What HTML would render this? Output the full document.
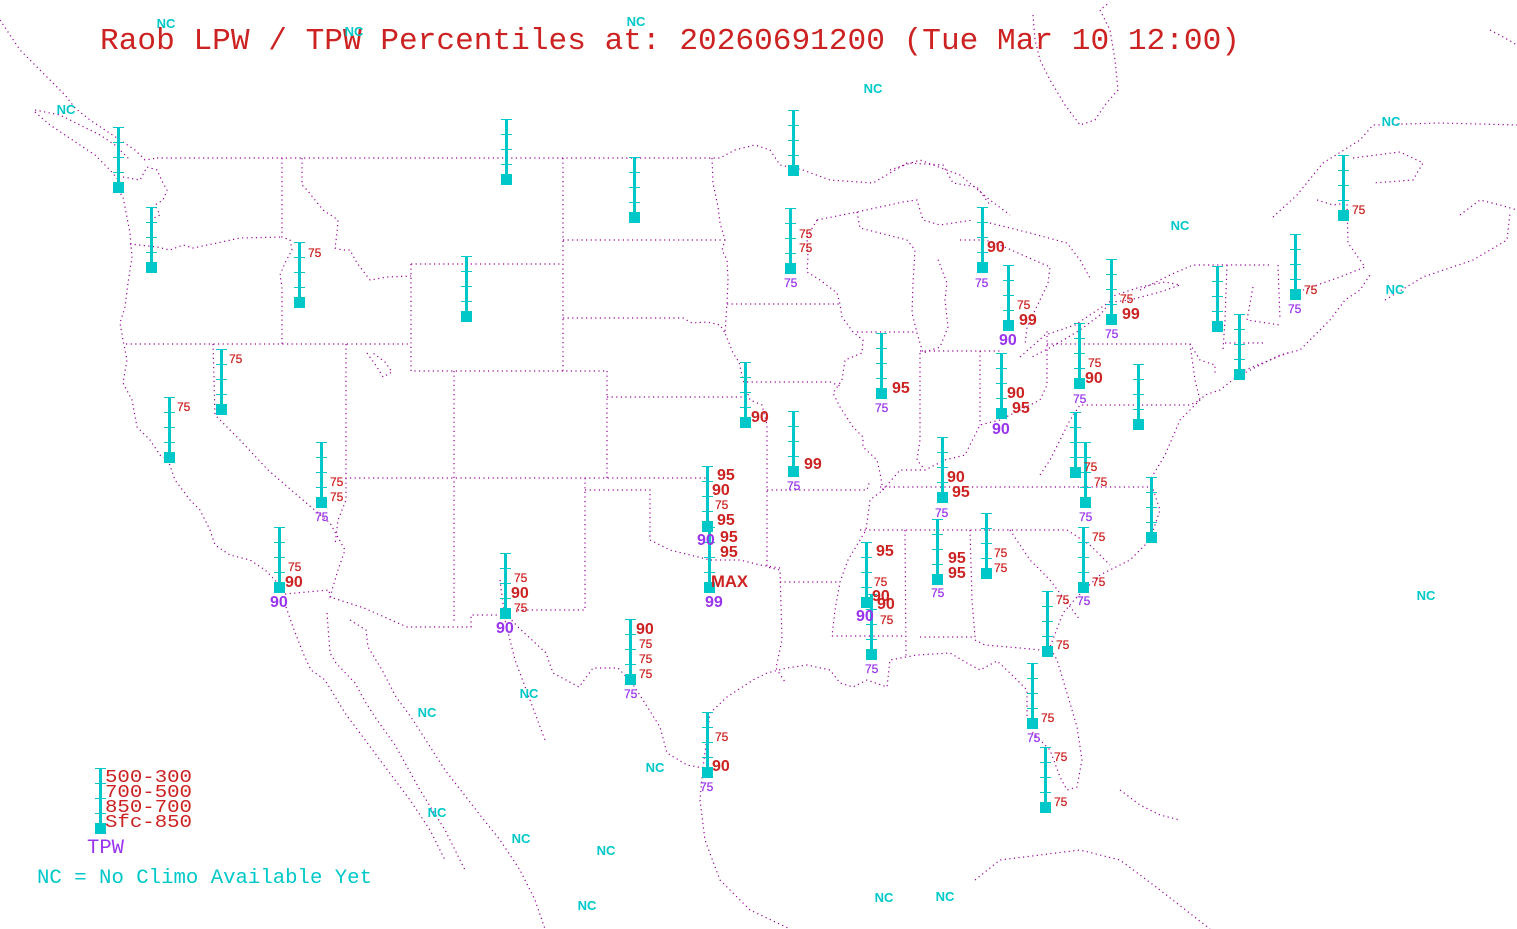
<!DOCTYPE html>
<html><head><meta charset="utf-8"><style>
html,body{margin:0;padding:0;background:#fff;}
svg{display:block;}
.m{fill:none;stroke:#990099;stroke-width:1.2;stroke-dasharray:1.2 3.4;}
.b{font:bold 16px "Liberation Sans",sans-serif;fill:#cc2222;}
.s{font:12px "Liberation Sans",sans-serif;fill:#cc2222;stroke:#cc2222;stroke-width:0.25;}
.pb{font:bold 16px "Liberation Sans",sans-serif;fill:#9933ee;}
.ps{font:12px "Liberation Sans",sans-serif;fill:#9933ee;stroke:#9933ee;stroke-width:0.25;}
.nc{font:bold 13px "Liberation Sans",sans-serif;fill:#00c8c8;}
.g rect{fill:#00c8c8;}
</style></head><body>
<svg width="1517" height="929" viewBox="0 0 1517 929" xmlns="http://www.w3.org/2000/svg">
<rect width="1517" height="929" fill="#fff"/>
<g class="m">
<polyline points="0,20 10,35 20,50 35,65 45,75 55,85 65,95 75,108 90,120 105,130 120,140 135,150 145,160 157,158"/>
<polyline points="35,110 60,115 80,125 100,135 115,145 130,160"/>
<polyline points="35,112 50,125 65,135 80,145 95,155 110,170 120,182"/>
<polyline points="123,177 140,180 147,167 157,170 163,183 167,190 163,200 155,205 160,215 150,220"/>
<polyline points="118,190 123,197 130,233 132,257 128,283 125,307 120,323 123,340 127,360 123,383 132,400 137,427 150,440 160,455 168,460 175,480 190,500 200,510 210,530 215,545 230,555 250,560 265,570 275,580 285,594"/>
<polyline points="157,158 720,158 735,150 755,145 770,150 780,165 803,170 830,180 873,183 907,163 943,165 953,183 977,187 990,205"/>
<polyline points="130,244 157,247 170,250 183,245 193,248 217,243 240,238 282,237"/>
<polyline points="282,158 282,237 290,240 292,250 285,263 280,275 282,287 282,344"/>
<polyline points="302,158 302,185 307,190 323,210 338,220 337,233 335,248 342,250 350,250 357,263 370,280 387,277 411,276"/>
<polyline points="126,344 411,344"/>
<polyline points="411,264 562,264"/>
<polyline points="411,264 411,371 607,371"/>
<polyline points="346,344 346,478 709,478"/>
<polyline points="454,371 454,623"/>
<polyline points="607,371 607,478"/>
<polyline points="563,158 563,371"/>
<polyline points="563,240 725,240"/>
<polyline points="563,318 683,318 692,323 707,322 720,325 725,333"/>
<polyline points="607,397 747,397"/>
<polyline points="712,158 713,183 718,207 720,223 725,240 722,250 727,260 728,280 727,303 725,333 733,353 739,362 743,380 750,400 762,405 767,425 767,567 780,570 782,640 776,668 785,682"/>
<polyline points="727,304 840,304"/>
<polyline points="817,220 807,237 808,257 807,272 820,280 837,293 840,304 842,317 853,332 863,340 862,353 845,360 842,380 833,393 840,407 853,427 863,437 863,447 877,460 880,473 883,490 870,500 866,530 848,560 840,582 835,610 832,636"/>
<polyline points="857,332 917,332"/>
<polyline points="747,382 830,382 840,386"/>
<polyline points="920,353 920,440 917,460 925,470"/>
<polyline points="920,351 1003,351"/>
<polyline points="980,351 980,425"/>
<polyline points="883,490 900,470 925,470 945,460 965,455 980,425 1000,420 1020,410 1040,400 1047,385 1047,330"/>
<polyline points="1047,344 1190,344 1200,360 1215,365 1215,375"/>
<polyline points="1190,344 1195,380 1200,400 1190,405 1080,405 1070,420 1060,440 1050,460 1040,475"/>
<polyline points="585,478 585,610 518,610"/>
<polyline points="585,490 650,490 650,540 670,550 690,555 710,560 740,560 760,565 780,568"/>
<polyline points="767,490 867,490 870,480"/>
<polyline points="780,582 840,582"/>
<polyline points="832,636 905,636"/>
<polyline points="905,530 906,657"/>
<polyline points="860,530 1020,530 1067,530 1090,545 1110,565"/>
<polyline points="880,487 1150,487"/>
<polyline points="970,530 972,600 975,637 920,637"/>
<polyline points="975,640 985,645 1020,648 1040,650 1052,650"/>
<polyline points="1010,530 1030,560 1050,580 1065,600 1080,620"/>
<polyline points="213,344 215,415 240,440 268,470 311,507 330,523 345,550 338,570 332,590 330,600"/>
<polyline points="346,478 346,500 338,520 335,545"/>
<polyline points="285,594 329,590 330,597 364,608 407,627 471,627 471,615 507,615 518,627 546,653 553,673 579,687 593,668 618,668 632,683 643,700 660,727 667,753 687,765 703,768"/>
<polyline points="286,607 293,627 303,653 311,670 325,680 345,713 380,760 410,800 430,830 445,860"/>
<polyline points="327,613 330,653 336,663 355,683 366,703 375,717 395,745 420,790 445,830 465,870"/>
<polyline points="350,620 366,630 368,647 382,670 396,697 411,717 445,770 480,815 500,840 520,870 535,900 545,929"/>
<polyline points="500,580 505,620 515,660 530,700 545,740"/>
<polyline points="703,768 700,800 705,840 720,880 750,910 790,929"/>
<polyline points="703,768 710,713 727,697 753,680 767,673 787,668 807,665 830,670 840,683 853,687 867,680 887,687 890,660 917,655 950,653 967,663 980,670 997,661 1010,673 1027,690 1027,717 1033,733 1050,750 1060,777 1067,790 1077,787 1082,760 1077,727 1067,693 1057,660 1050,647 1063,613 1077,597 1100,575 1130,560 1150,540 1160,510 1150,480 1165,455 1180,420 1190,410 1205,395 1220,390 1235,378 1260,365 1280,355 1300,350 1310,340 1330,320 1345,300 1360,290 1370,275"/>
<polyline points="1240,372 1265,362 1290,352"/>
<polyline points="817,220 857,212 903,202 917,200 923,220 940,225 973,220"/>
<polyline points="857,212 860,228 907,240 915,250 913,283 912,313 917,333 923,353 940,347 948,327 945,300 947,283 937,257"/>
<polyline points="960,240 985,240 1000,245 1027,257 1050,267 1048,283 1040,300 1027,327 1025,345"/>
<polyline points="990,223 1030,233 1067,243 1080,260 1090,278"/>
<polyline points="1020,357 1045,335 1075,325 1105,305 1112,300 1100,315 1080,330 1055,345 1030,358"/>
<polyline points="1110,297 1140,287 1165,282 1180,285 1160,292 1130,300 1112,302"/>
<polyline points="1140,290 1170,275 1193,265 1270,265"/>
<polyline points="1227,265 1225,320 1223,350"/>
<polyline points="1253,287 1247,320 1280,325"/>
<polyline points="1225,343 1265,343"/>
<polyline points="1278,265 1280,320"/>
<polyline points="1273,217 1297,195 1323,163 1360,140 1373,125 1440,123 1517,125"/>
<polyline points="1353,158 1400,152 1423,163 1413,180 1373,183"/>
<polyline points="1317,200 1333,205 1347,203 1348,243 1360,260 1365,267 1340,277 1303,290"/>
<polyline points="1385,300 1423,277 1473,260 1507,240 1510,213"/>
<polyline points="1460,215 1480,200 1500,205 1517,210"/>
<polyline points="1490,30 1505,38 1517,45"/>
<polyline points="1033,15 1035,40 1040,60 1050,80 1065,105 1080,125 1095,120 1105,105 1118,90 1115,60 1110,30 1100,10 1110,2"/>
<polyline points="890,170 920,160 960,175 990,200 1010,215"/>
<polyline points="367,353 377,367 383,377 392,372 385,362 373,353"/>
<polyline points="975,880 1000,860 1040,855 1080,850 1120,860 1160,890 1210,929"/>
<polyline points="1120,790 1140,805 1160,815 1180,820"/>
</g>

<g class="g" shape-rendering="crispEdges">
<rect x="117" y="127" width="3" height="55"/><rect x="113" y="127" width="11" height="1"/><rect x="113" y="142" width="11" height="1"/><rect x="113" y="157" width="11" height="1"/><rect x="113" y="172" width="11" height="1"/><rect x="113" y="182" width="11" height="11"/>
<rect x="150" y="207" width="3" height="55"/><rect x="146" y="207" width="11" height="1"/><rect x="146" y="222" width="11" height="1"/><rect x="146" y="237" width="11" height="1"/><rect x="146" y="252" width="11" height="1"/><rect x="146" y="262" width="11" height="11"/>
<rect x="298" y="242" width="3" height="55"/><rect x="294" y="242" width="11" height="1"/><rect x="294" y="257" width="11" height="1"/><rect x="294" y="272" width="11" height="1"/><rect x="294" y="287" width="11" height="1"/><rect x="294" y="297" width="11" height="11"/>
<rect x="505" y="119" width="3" height="55"/><rect x="501" y="119" width="11" height="1"/><rect x="501" y="134" width="11" height="1"/><rect x="501" y="149" width="11" height="1"/><rect x="501" y="164" width="11" height="1"/><rect x="501" y="174" width="11" height="11"/>
<rect x="465" y="256" width="3" height="55"/><rect x="461" y="256" width="11" height="1"/><rect x="461" y="271" width="11" height="1"/><rect x="461" y="286" width="11" height="1"/><rect x="461" y="301" width="11" height="1"/><rect x="461" y="311" width="11" height="11"/>
<rect x="633" y="157" width="3" height="55"/><rect x="629" y="157" width="11" height="1"/><rect x="629" y="172" width="11" height="1"/><rect x="629" y="187" width="11" height="1"/><rect x="629" y="202" width="11" height="1"/><rect x="629" y="212" width="11" height="11"/>
<rect x="792" y="110" width="3" height="55"/><rect x="788" y="110" width="11" height="1"/><rect x="788" y="125" width="11" height="1"/><rect x="788" y="140" width="11" height="1"/><rect x="788" y="155" width="11" height="1"/><rect x="788" y="165" width="11" height="11"/>
<rect x="789" y="208" width="3" height="55"/><rect x="785" y="208" width="11" height="1"/><rect x="785" y="223" width="11" height="1"/><rect x="785" y="238" width="11" height="1"/><rect x="785" y="253" width="11" height="1"/><rect x="785" y="263" width="11" height="11"/>
<rect x="220" y="349" width="3" height="55"/><rect x="216" y="349" width="11" height="1"/><rect x="216" y="364" width="11" height="1"/><rect x="216" y="379" width="11" height="1"/><rect x="216" y="394" width="11" height="1"/><rect x="216" y="404" width="11" height="11"/>
<rect x="168" y="397" width="3" height="55"/><rect x="164" y="397" width="11" height="1"/><rect x="164" y="412" width="11" height="1"/><rect x="164" y="427" width="11" height="1"/><rect x="164" y="442" width="11" height="1"/><rect x="164" y="452" width="11" height="11"/>
<rect x="320" y="442" width="3" height="55"/><rect x="316" y="442" width="11" height="1"/><rect x="316" y="457" width="11" height="1"/><rect x="316" y="472" width="11" height="1"/><rect x="316" y="487" width="11" height="1"/><rect x="316" y="497" width="11" height="11"/>
<rect x="278" y="527" width="3" height="55"/><rect x="274" y="527" width="11" height="1"/><rect x="274" y="542" width="11" height="1"/><rect x="274" y="557" width="11" height="1"/><rect x="274" y="572" width="11" height="1"/><rect x="274" y="582" width="11" height="11"/>
<rect x="504" y="553" width="3" height="55"/><rect x="500" y="553" width="11" height="1"/><rect x="500" y="568" width="11" height="1"/><rect x="500" y="583" width="11" height="1"/><rect x="500" y="598" width="11" height="1"/><rect x="500" y="608" width="11" height="11"/>
<rect x="629" y="619" width="3" height="55"/><rect x="625" y="619" width="11" height="1"/><rect x="625" y="634" width="11" height="1"/><rect x="625" y="649" width="11" height="1"/><rect x="625" y="664" width="11" height="1"/><rect x="625" y="674" width="11" height="11"/>
<rect x="706" y="466" width="3" height="55"/><rect x="702" y="466" width="11" height="1"/><rect x="702" y="481" width="11" height="1"/><rect x="702" y="496" width="11" height="1"/><rect x="702" y="511" width="11" height="1"/><rect x="702" y="521" width="11" height="11"/>
<rect x="708" y="527" width="3" height="55"/><rect x="704" y="527" width="11" height="1"/><rect x="704" y="542" width="11" height="1"/><rect x="704" y="557" width="11" height="1"/><rect x="704" y="572" width="11" height="1"/><rect x="704" y="582" width="11" height="11"/>
<rect x="744" y="362" width="3" height="55"/><rect x="740" y="362" width="11" height="1"/><rect x="740" y="377" width="11" height="1"/><rect x="740" y="392" width="11" height="1"/><rect x="740" y="407" width="11" height="1"/><rect x="740" y="417" width="11" height="11"/>
<rect x="792" y="411" width="3" height="55"/><rect x="788" y="411" width="11" height="1"/><rect x="788" y="426" width="11" height="1"/><rect x="788" y="441" width="11" height="1"/><rect x="788" y="456" width="11" height="1"/><rect x="788" y="466" width="11" height="11"/>
<rect x="706" y="712" width="3" height="55"/><rect x="702" y="712" width="11" height="1"/><rect x="702" y="727" width="11" height="1"/><rect x="702" y="742" width="11" height="1"/><rect x="702" y="757" width="11" height="1"/><rect x="702" y="767" width="11" height="11"/>
<rect x="880" y="333" width="3" height="55"/><rect x="876" y="333" width="11" height="1"/><rect x="876" y="348" width="11" height="1"/><rect x="876" y="363" width="11" height="1"/><rect x="876" y="378" width="11" height="1"/><rect x="876" y="388" width="11" height="11"/>
<rect x="941" y="437" width="3" height="55"/><rect x="937" y="437" width="11" height="1"/><rect x="937" y="452" width="11" height="1"/><rect x="937" y="467" width="11" height="1"/><rect x="937" y="482" width="11" height="1"/><rect x="937" y="492" width="11" height="11"/>
<rect x="981" y="207" width="3" height="55"/><rect x="977" y="207" width="11" height="1"/><rect x="977" y="222" width="11" height="1"/><rect x="977" y="237" width="11" height="1"/><rect x="977" y="252" width="11" height="1"/><rect x="977" y="262" width="11" height="11"/>
<rect x="1007" y="265" width="3" height="55"/><rect x="1003" y="265" width="11" height="1"/><rect x="1003" y="280" width="11" height="1"/><rect x="1003" y="295" width="11" height="1"/><rect x="1003" y="310" width="11" height="1"/><rect x="1003" y="320" width="11" height="11"/>
<rect x="1000" y="353" width="3" height="55"/><rect x="996" y="353" width="11" height="1"/><rect x="996" y="368" width="11" height="1"/><rect x="996" y="383" width="11" height="1"/><rect x="996" y="398" width="11" height="1"/><rect x="996" y="408" width="11" height="11"/>
<rect x="865" y="542" width="3" height="55"/><rect x="861" y="542" width="11" height="1"/><rect x="861" y="557" width="11" height="1"/><rect x="861" y="572" width="11" height="1"/><rect x="861" y="587" width="11" height="1"/><rect x="861" y="597" width="11" height="11"/>
<rect x="870" y="594" width="3" height="55"/><rect x="866" y="594" width="11" height="1"/><rect x="866" y="609" width="11" height="1"/><rect x="866" y="624" width="11" height="1"/><rect x="866" y="639" width="11" height="1"/><rect x="866" y="649" width="11" height="11"/>
<rect x="936" y="519" width="3" height="55"/><rect x="932" y="519" width="11" height="1"/><rect x="932" y="534" width="11" height="1"/><rect x="932" y="549" width="11" height="1"/><rect x="932" y="564" width="11" height="1"/><rect x="932" y="574" width="11" height="11"/>
<rect x="985" y="513" width="3" height="55"/><rect x="981" y="513" width="11" height="1"/><rect x="981" y="528" width="11" height="1"/><rect x="981" y="543" width="11" height="1"/><rect x="981" y="558" width="11" height="1"/><rect x="981" y="568" width="11" height="11"/>
<rect x="1078" y="323" width="3" height="55"/><rect x="1074" y="323" width="11" height="1"/><rect x="1074" y="338" width="11" height="1"/><rect x="1074" y="353" width="11" height="1"/><rect x="1074" y="368" width="11" height="1"/><rect x="1074" y="378" width="11" height="11"/>
<rect x="1110" y="259" width="3" height="55"/><rect x="1106" y="259" width="11" height="1"/><rect x="1106" y="274" width="11" height="1"/><rect x="1106" y="289" width="11" height="1"/><rect x="1106" y="304" width="11" height="1"/><rect x="1106" y="314" width="11" height="11"/>
<rect x="1074" y="412" width="3" height="55"/><rect x="1070" y="412" width="11" height="1"/><rect x="1070" y="427" width="11" height="1"/><rect x="1070" y="442" width="11" height="1"/><rect x="1070" y="457" width="11" height="1"/><rect x="1070" y="467" width="11" height="11"/>
<rect x="1084" y="442" width="3" height="55"/><rect x="1080" y="442" width="11" height="1"/><rect x="1080" y="457" width="11" height="1"/><rect x="1080" y="472" width="11" height="1"/><rect x="1080" y="487" width="11" height="1"/><rect x="1080" y="497" width="11" height="11"/>
<rect x="1137" y="364" width="3" height="55"/><rect x="1133" y="364" width="11" height="1"/><rect x="1133" y="379" width="11" height="1"/><rect x="1133" y="394" width="11" height="1"/><rect x="1133" y="409" width="11" height="1"/><rect x="1133" y="419" width="11" height="11"/>
<rect x="1082" y="527" width="3" height="55"/><rect x="1078" y="527" width="11" height="1"/><rect x="1078" y="542" width="11" height="1"/><rect x="1078" y="557" width="11" height="1"/><rect x="1078" y="572" width="11" height="1"/><rect x="1078" y="582" width="11" height="11"/>
<rect x="1046" y="591" width="3" height="55"/><rect x="1042" y="591" width="11" height="1"/><rect x="1042" y="606" width="11" height="1"/><rect x="1042" y="621" width="11" height="1"/><rect x="1042" y="636" width="11" height="1"/><rect x="1042" y="646" width="11" height="11"/>
<rect x="1031" y="663" width="3" height="55"/><rect x="1027" y="663" width="11" height="1"/><rect x="1027" y="678" width="11" height="1"/><rect x="1027" y="693" width="11" height="1"/><rect x="1027" y="708" width="11" height="1"/><rect x="1027" y="718" width="11" height="11"/>
<rect x="1044" y="747" width="3" height="55"/><rect x="1040" y="747" width="11" height="1"/><rect x="1040" y="762" width="11" height="1"/><rect x="1040" y="777" width="11" height="1"/><rect x="1040" y="792" width="11" height="1"/><rect x="1040" y="802" width="11" height="11"/>
<rect x="1150" y="477" width="3" height="55"/><rect x="1146" y="477" width="11" height="1"/><rect x="1146" y="492" width="11" height="1"/><rect x="1146" y="507" width="11" height="1"/><rect x="1146" y="522" width="11" height="1"/><rect x="1146" y="532" width="11" height="11"/>
<rect x="1216" y="266" width="3" height="55"/><rect x="1212" y="266" width="11" height="1"/><rect x="1212" y="281" width="11" height="1"/><rect x="1212" y="296" width="11" height="1"/><rect x="1212" y="311" width="11" height="1"/><rect x="1212" y="321" width="11" height="11"/>
<rect x="1238" y="314" width="3" height="55"/><rect x="1234" y="314" width="11" height="1"/><rect x="1234" y="329" width="11" height="1"/><rect x="1234" y="344" width="11" height="1"/><rect x="1234" y="359" width="11" height="1"/><rect x="1234" y="369" width="11" height="11"/>
<rect x="1294" y="234" width="3" height="55"/><rect x="1290" y="234" width="11" height="1"/><rect x="1290" y="249" width="11" height="1"/><rect x="1290" y="264" width="11" height="1"/><rect x="1290" y="279" width="11" height="1"/><rect x="1290" y="289" width="11" height="11"/>
<rect x="1342" y="155" width="3" height="55"/><rect x="1338" y="155" width="11" height="1"/><rect x="1338" y="170" width="11" height="1"/><rect x="1338" y="185" width="11" height="1"/><rect x="1338" y="200" width="11" height="1"/><rect x="1338" y="210" width="11" height="11"/>
<rect x="99" y="768" width="3" height="55"/><rect x="95" y="768" width="11" height="1"/><rect x="95" y="783" width="11" height="1"/><rect x="95" y="798" width="11" height="1"/><rect x="95" y="813" width="11" height="1"/><rect x="95" y="823" width="11" height="11"/>
</g>

<text x="100" y="49" textLength="1140" lengthAdjust="spacingAndGlyphs" style="font:31px 'Liberation Mono',monospace;fill:#cc2222;">Raob LPW / TPW Percentiles at: 20260691200 (Tue Mar 10 12:00)</text>

<g style="font:18px 'Liberation Mono',monospace;fill:#cc2222;">
<text x="105" y="782" textLength="87" lengthAdjust="spacingAndGlyphs">500-300</text>
<text x="105" y="797" textLength="87" lengthAdjust="spacingAndGlyphs">700-500</text>
<text x="105" y="812" textLength="87" lengthAdjust="spacingAndGlyphs">850-700</text>
<text x="105" y="827" textLength="87" lengthAdjust="spacingAndGlyphs">Sfc-850</text>
</g>
<text x="87" y="853" textLength="37" lengthAdjust="spacingAndGlyphs" style="font:20px 'Liberation Mono',monospace;fill:#9933ee;">TPW</text>
<text x="37" y="883" textLength="335" lengthAdjust="spacingAndGlyphs" style="font:20px 'Liberation Mono',monospace;fill:#00c8c8;">NC = No Climo Available Yet</text>

<g class="nc" text-anchor="middle">
<text x="166" y="28">NC</text><text x="354" y="36">NC</text><text x="636" y="26">NC</text>
<text x="66" y="114">NC</text><text x="873" y="93">NC</text><text x="1391" y="126">NC</text>
<text x="1180" y="230">NC</text><text x="1395" y="294">NC</text><text x="1426" y="600">NC</text>
<text x="529" y="698">NC</text><text x="427" y="717">NC</text><text x="655" y="772">NC</text>
<text x="437" y="817">NC</text><text x="521" y="843">NC</text><text x="606" y="855">NC</text>
<text x="587" y="910">NC</text><text x="884" y="902">NC</text><text x="945" y="901">NC</text>
</g>

<g>
<text class="s" x="308" y="257">75</text>
<text class="s" x="799" y="238">75</text><text class="s" x="799" y="252">75</text><text class="ps" x="784" y="287">75</text>
<text class="s" x="229" y="363">75</text>
<text class="s" x="177" y="411">75</text>
<text class="s" x="330" y="486">75</text><text class="s" x="330" y="501">75</text><text class="ps" x="315" y="521">75</text>
<text class="s" x="288" y="571">75</text><text class="b" x="285" y="587">90</text><text class="pb" x="270" y="607">90</text>
<text class="s" x="514" y="582">75</text><text class="b" x="511" y="598">90</text><text class="s" x="514" y="612">75</text><text class="pb" x="496" y="633">90</text>
<text class="b" x="636" y="634">90</text><text class="s" x="639" y="648">75</text><text class="s" x="639" y="663">75</text><text class="s" x="639" y="678">75</text><text class="ps" x="624" y="698">75</text>
<text class="b" x="717" y="480">95</text><text class="b" x="712" y="495">90</text><text class="s" x="715" y="509">75</text><text class="b" x="717" y="525">95</text><text class="pb" x="697" y="545">90</text>
<text class="b" x="720" y="542">95</text><text class="b" x="720" y="557">95</text>
<text x="711" y="587" textLength="37" lengthAdjust="spacingAndGlyphs" style="font:bold 17px 'Liberation Sans',sans-serif;fill:#cc2222;">MAX</text>
<text class="pb" x="705" y="607">99</text>
<text class="b" x="751" y="422">90</text>
<text class="b" x="804" y="469">99</text><text class="ps" x="787" y="490">75</text>
<text class="s" x="715" y="741">75</text><text class="b" x="712" y="771">90</text><text class="ps" x="700" y="791">75</text>
<text class="b" x="892" y="393">95</text><text class="ps" x="875" y="412">75</text>
<text class="b" x="947" y="482">90</text><text class="b" x="952" y="497">95</text><text class="ps" x="935" y="517">75</text>
<text class="b" x="987" y="252">90</text><text class="ps" x="975" y="287">75</text>
<text class="s" x="1017" y="309">75</text><text class="b" x="1019" y="325">99</text><text class="pb" x="999" y="345">90</text>
<text class="b" x="1007" y="398">90</text><text class="b" x="1012" y="413">95</text><text class="pb" x="992" y="434">90</text>
<text class="b" x="876" y="556">95</text><text class="s" x="874" y="586">75</text><text class="b" x="872" y="601">90</text><text class="pb" x="856" y="621">90</text>
<text class="b" x="877" y="609">90</text><text class="s" x="880" y="624">75</text><text class="ps" x="865" y="673">75</text>
<text class="b" x="948" y="563">95</text><text class="b" x="948" y="578">95</text><text class="ps" x="931" y="597">75</text>
<text class="s" x="994" y="557">75</text><text class="s" x="994" y="572">75</text>
<text class="s" x="1088" y="367">75</text><text class="b" x="1085" y="383">90</text><text class="ps" x="1073" y="403">75</text>
<text class="s" x="1120" y="303">75</text><text class="b" x="1122" y="319">99</text><text class="ps" x="1105" y="338">75</text>
<text class="s" x="1084" y="471">75</text>
<text class="s" x="1094" y="486">75</text><text class="ps" x="1079" y="521">75</text>
<text class="s" x="1092" y="541">75</text><text class="s" x="1092" y="586">75</text><text class="ps" x="1077" y="605">75</text>
<text class="s" x="1056" y="604">75</text><text class="s" x="1056" y="649">75</text>
<text class="s" x="1041" y="722">75</text><text class="ps" x="1027" y="742">75</text>
<text class="s" x="1054" y="761">75</text><text class="s" x="1054" y="806">75</text>
<text class="s" x="1304" y="294">75</text><text class="ps" x="1288" y="313">75</text>
<text class="s" x="1352" y="214">75</text>
</g>
</svg>
</body></html>
